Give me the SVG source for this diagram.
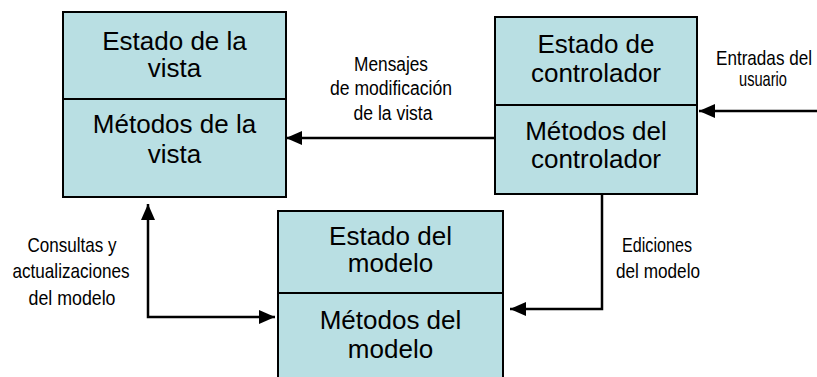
<svg xmlns="http://www.w3.org/2000/svg" width="817" height="377" viewBox="0 0 817 377">
<style>
.box{fill:#B9DFE3;stroke:#000;stroke-width:2}
.div{stroke:#000;stroke-width:2}
.bt{font-family:"Liberation Sans",Arial,sans-serif;font-size:26px;text-anchor:middle;fill:#000}
.lt{font-family:"Liberation Sans",Arial,sans-serif;font-size:21px;text-anchor:middle;fill:#000}
.ls{font-size:20px}
.ln{fill:none;stroke:#000;stroke-width:2.5}
</style>
<defs>
<marker id="ah" viewBox="0 0 16 14" refX="16" refY="7" markerWidth="16" markerHeight="14" markerUnits="userSpaceOnUse" orient="auto-start-reverse">
<path d="M0,0 L16,7 L0,14 Z" fill="#000"/>
</marker>
</defs>
<g id="vista">
<rect class="box" x="63" y="12" width="223" height="185"/>
<line class="div" x1="63" y1="99" x2="286" y2="99"/>
<text class="bt" x="174.5" y="50">Estado de la</text>
<text class="bt" x="174.5" y="77">vista</text>
<text class="bt" x="174.5" y="133">Métodos de la</text>
<text class="bt" x="174.5" y="163">vista</text>
</g>
<g id="controlador">
<rect class="box" x="495" y="17" width="202" height="177"/>
<line class="div" x1="495" y1="105" x2="697" y2="105"/>
<text class="bt" x="596" y="53">Estado de</text>
<text class="bt" x="596" y="82">controlador</text>
<text class="bt" x="596" y="140">Métodos del</text>
<text class="bt" x="596" y="168">controlador</text>
</g>
<g id="modelo">
<rect class="box" x="278" y="211" width="225" height="180"/>
<line class="div" x1="278" y1="293" x2="503" y2="293"/>
<text class="bt" x="390.5" y="245">Estado del</text>
<text class="bt" x="390.5" y="272">modelo</text>
<text class="bt" x="390.5" y="329">Métodos del</text>
<text class="bt" x="390.5" y="358">modelo</text>
</g>
<g id="connectors">
<line class="ln" x1="495" y1="138" x2="286" y2="138" marker-end="url(#ah)"/>
<line class="ln" x1="817" y1="111" x2="699" y2="111" marker-end="url(#ah)"/>
<polyline class="ln" points="602,194 602,309 510,309" marker-end="url(#ah)"/>
<polyline class="ln" points="148,204 148,317 275,317" marker-start="url(#ah)" marker-end="url(#ah)"/>
</g>
<g id="labels">
<text class="lt ls" x="391" y="71" textLength="74" lengthAdjust="spacingAndGlyphs">Mensajes</text>
<text class="lt ls" x="391" y="95" textLength="122" lengthAdjust="spacingAndGlyphs">de modificación</text>
<text class="lt ls" x="393" y="120" textLength="79" lengthAdjust="spacingAndGlyphs">de la vista</text>
<text class="lt" x="764" y="65" textLength="96" lengthAdjust="spacingAndGlyphs">Entradas del</text>
<text class="lt" x="763" y="86" textLength="48" lengthAdjust="spacingAndGlyphs">usuario</text>
<text class="lt" x="72" y="252" textLength="89" lengthAdjust="spacingAndGlyphs">Consultas y</text>
<text class="lt" x="71" y="278" textLength="117" lengthAdjust="spacingAndGlyphs">actualizaciones</text>
<text class="lt" x="72" y="305" textLength="87" lengthAdjust="spacingAndGlyphs">del modelo</text>
<text class="lt" x="657" y="252" textLength="70" lengthAdjust="spacingAndGlyphs">Ediciones</text>
<text class="lt" x="658" y="278" textLength="84" lengthAdjust="spacingAndGlyphs">del modelo</text>
</g>
</svg>
